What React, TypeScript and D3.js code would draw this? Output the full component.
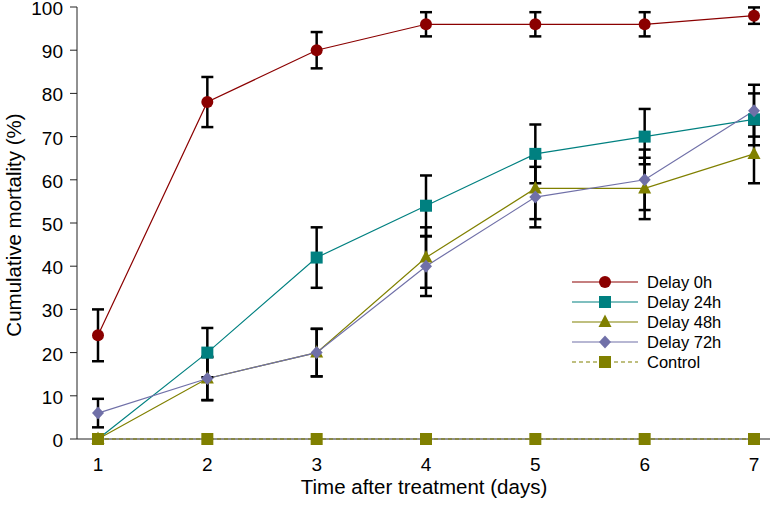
import React from "react";
import * as d3 from "d3";

const days = [1, 2, 3, 4, 5, 6, 7];
const yTicks = [0, 10, 20, 30, 40, 50, 60, 70, 80, 90, 100];

const delay0 = [24, 78, 90, 96, 96, 96, 98];
const delay0Err = [6, 5.8, 4.2, 2.8, 2.8, 2.8, 1.9];
const delay24 = [0, 20, 42, 54, 66, 70, 74];
const delay24Err = [0, 5.7, 7, 7, 6.8, 6.4, 6];
const delay48 = [0, 14, 20, 42, 58, 58, 66];
const delay48Err = [0, 5, 5.5, 7, 7.1, 7.1, 6.8];
const delay72 = [6, 14, 20, 40, 56, 60, 76];
const delay72Err = [3.3, 5, 5.5, 6.9, 7, 7, 6];
const control = [0, 0, 0, 0, 0, 0, 0];

type Shape = "circle" | "square" | "triangle" | "diamond";
interface Series {
  name: string;
  values: number[];
  errors: number[] | null;
  color: string;
  shape: Shape;
  dashed: boolean;
}

const series: Series[] = [
  { name: "Delay 0h", values: delay0, errors: delay0Err, color: "#8B0000", shape: "circle", dashed: false },
  { name: "Delay 24h", values: delay24, errors: delay24Err, color: "#008080", shape: "square", dashed: false },
  { name: "Delay 48h", values: delay48, errors: delay48Err, color: "#808000", shape: "triangle", dashed: false },
  { name: "Delay 72h", values: delay72, errors: delay72Err, color: "#7070A8", shape: "diamond", dashed: false },
  { name: "Control", values: control, errors: null, color: "#808000", shape: "square", dashed: true },
];

const FONT = "'Liberation Sans', Arial, Helvetica, sans-serif";

function Marker({ shape, x, y, color }: { shape: Shape; x: number; y: number; color: string }) {
  if (shape === "circle") return <circle cx={x} cy={y} r={6} fill={color} />;
  if (shape === "square") return <rect x={x - 6} y={y - 6} width={12} height={12} fill={color} />;
  if (shape === "triangle")
    return <path d={`M${x},${y - 7.5} L${x + 6.5},${y + 5} L${x - 6.5},${y + 5} Z`} fill={color} />;
  return <path d={`M${x},${y - 6.5} L${x + 6},${y} L${x},${y + 6.5} L${x - 6},${y} Z`} fill={color} />;
}

export default function App() {
  const W = 777;
  const H = 507;
  const x = d3.scaleLinear().domain([1, 7]).range([98, 754]);
  const y = d3.scaleLinear().domain([0, 100]).range([439, 7]);
  const axisLeft = 77;
  const axisRight = 770;

  const line = d3
    .line<number>()
    .x((_, i) => x(days[i]))
    .y((d) => y(d));

  return (
    <svg
      width={W}
      height={H}
      style={{ position: "absolute", left: 0, top: 0, background: "#fff" }}
      fontFamily={FONT}
    >
      <rect width={W} height={H} fill="#fff" />
      {/* axes */}
      <line x1={axisLeft} x2={axisLeft} y1={y(100)} y2={y(0)} stroke="#222" strokeWidth={1} />
      <line x1={axisLeft} x2={axisRight} y1={y(0)} y2={y(0)} stroke="#222" strokeWidth={1} />
      {yTicks.map((t) => (
        <g key={`yt${t}`}>
          <line x1={axisLeft - 7} x2={axisLeft} y1={y(t)} y2={y(t)} stroke="#222" strokeWidth={1} />
          <text x={63} y={y(t)} dy="0.42em" textAnchor="end" fontSize={19} fill="#000">
            {t}
          </text>
        </g>
      ))}
      {days.map((d) => (
        <g key={`xt${d}`}>
          <line x1={x(d)} x2={x(d)} y1={y(0)} y2={y(0) + 6} stroke="#222" strokeWidth={1} />
          <text x={x(d)} y={471} textAnchor="middle" fontSize={19} fill="#000">
            {d}
          </text>
        </g>
      ))}
      <text x={424} y={494} textAnchor="middle" fontSize={20.5} fill="#000">
        Time after treatment (days)
      </text>
      <text
        transform={`translate(21, ${y(50) + 2}) rotate(-90)`}
        textAnchor="middle"
        fontSize={20.5}
        fill="#000"
      >
        Cumulative mortality (%)
      </text>

      {/* lines */}
      {series.map((s) => (
        <path
          key={`l${s.name}`}
          d={line(s.values) || ""}
          fill="none"
          stroke={s.color}
          strokeWidth={1.2}
          strokeDasharray={s.dashed ? "4,3" : undefined}
        />
      ))}

      {/* error bars */}
      {series.map((s) =>
        s.errors
          ? s.values.map((v, i) => {
              const e = s.errors![i];
              if (!e) return null;
              const cx = x(days[i]);
              const y1 = y(v + e);
              const y2 = y(v - e);
              return (
                <g key={`e${s.name}${i}`} stroke="#000" strokeWidth={2.5}>
                  <line x1={cx} x2={cx} y1={y1} y2={y2} />
                  <line x1={cx - 6} x2={cx + 6} y1={y1} y2={y1} />
                  <line x1={cx - 6} x2={cx + 6} y1={y2} y2={y2} />
                </g>
              );
            })
          : null
      )}

      {/* markers */}
      {series.map((s) =>
        s.values.map((v, i) => (
          <Marker key={`m${s.name}${i}`} shape={s.shape} x={x(days[i])} y={y(v)} color={s.color} />
        ))
      )}

      {/* legend */}
      {series.map((s, i) => {
        const ly = 282 + i * 20;
        return (
          <g key={`lg${s.name}`}>
            <line
              x1={572}
              x2={638}
              y1={ly}
              y2={ly}
              stroke={s.color}
              strokeWidth={1.2}
              strokeDasharray={s.dashed ? "4,3" : undefined}
            />
            <Marker shape={s.shape} x={605} y={ly} color={s.color} />
            <text x={647} y={ly} dy="0.35em" fontSize={16.5} fill="#000">
              {s.name}
            </text>
          </g>
        );
      })}
    </svg>
  );
}
